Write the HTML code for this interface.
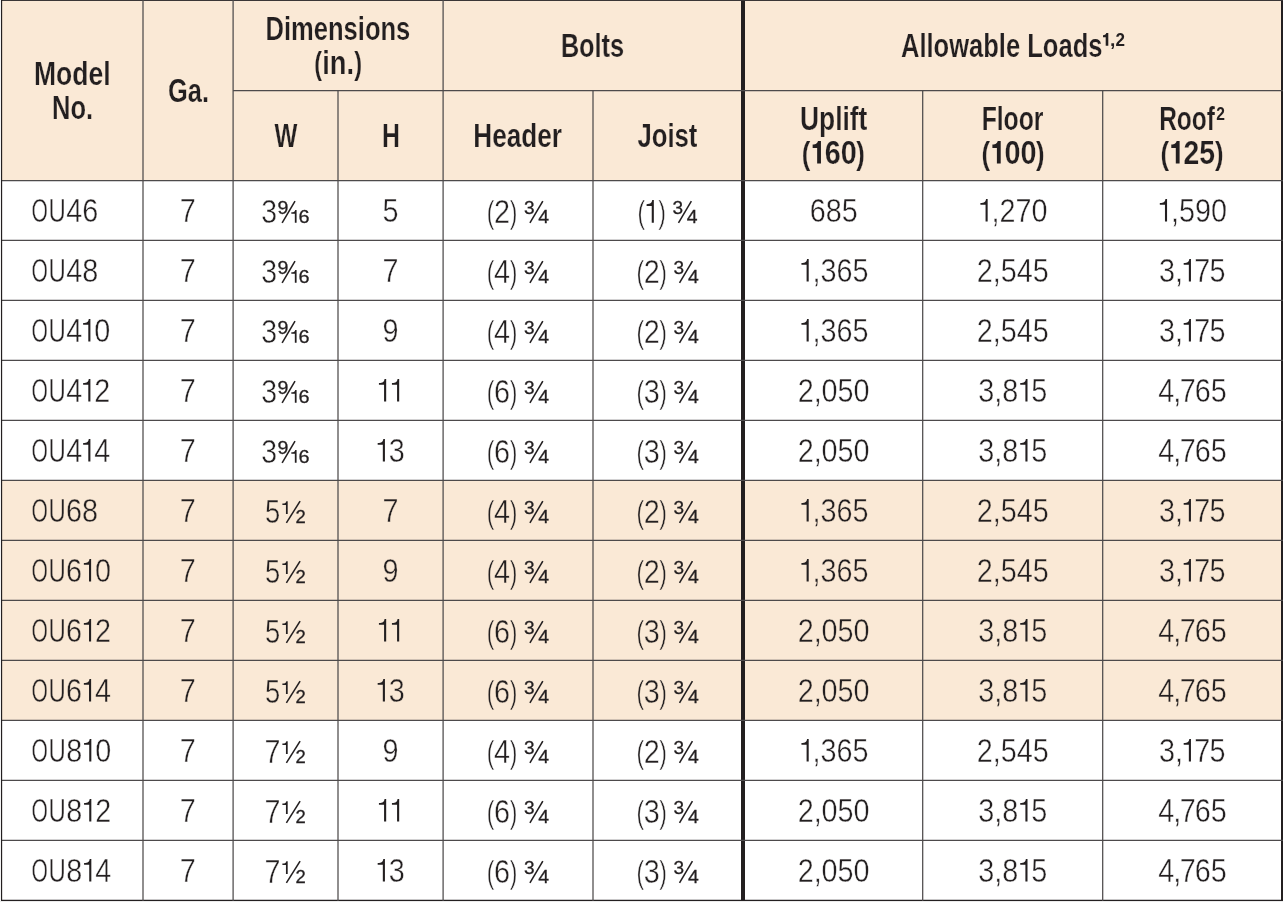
<!DOCTYPE html>
<html><head><meta charset="utf-8"><title>OU Allowable Loads</title>
<style>html,body{margin:0;padding:0;background:#fff}body{width:1283px;height:902px;overflow:hidden}svg{display:block;will-change:transform}</style>
</head><body>
<svg width="1283" height="902" viewBox="0 0 1283 902">
<rect x="1" y="0" width="1282" height="180.5" fill="#FAE9D6"/>
<rect x="1" y="480.4" width="1282" height="240" fill="#FAE9D6"/>
<g opacity="0.999" fill="#231F20" font-family="Liberation Sans, sans-serif">
<text transform="translate(34.01 85) scale(0.8033 1)" font-size="33" font-weight="bold" stroke="#FAE9D6" stroke-width="0.2" vector-effect="non-scaling-stroke">Model</text>
<text transform="translate(51.98 119) scale(0.7725 1)" font-size="33" font-weight="bold" stroke="#FAE9D6" stroke-width="0.2" vector-effect="non-scaling-stroke">No.</text>
<text transform="translate(167.98 101.8) scale(0.7712 1)" font-size="33" font-weight="bold" stroke="#FAE9D6" stroke-width="0.2" vector-effect="non-scaling-stroke">Ga.</text>
<text transform="translate(265.58 39.9) scale(0.7739 1)" font-size="33" font-weight="bold" stroke="#FAE9D6" stroke-width="0.2" vector-effect="non-scaling-stroke">Dimensions</text>
<text transform="translate(314.14 73.8) scale(0.7035 0.94)" font-size="33" font-weight="bold" stroke="#FAE9D6" stroke-width="0.2" vector-effect="non-scaling-stroke">(</text>
<text transform="translate(322.29 73.8) scale(0.8258 1)" font-size="33" font-weight="bold" stroke="#FAE9D6" stroke-width="0.2" vector-effect="non-scaling-stroke">in.</text>
<text transform="translate(354.14 73.8) scale(0.7143 0.94)" font-size="33" font-weight="bold" stroke="#FAE9D6" stroke-width="0.2" vector-effect="non-scaling-stroke">)</text>
<text transform="translate(560.9 57) scale(0.7638 1)" font-size="33" font-weight="bold" stroke="#FAE9D6" stroke-width="0.2" vector-effect="non-scaling-stroke">Bolts</text>
<text transform="translate(900.96 56.9) scale(0.7741 1)" font-size="33" font-weight="bold" stroke="#FAE9D6" stroke-width="0.2" vector-effect="non-scaling-stroke">Allowable Loads</text>
<path d="M1105.7 45.8H1108.3V33H1106.27C1105.83 34.32 1105.16 35.2 1103 35.2V37.2H1105.7Z"/>
<text transform="translate(1110.05 45.8) scale(1.0539 1)" font-size="18.3" font-weight="bold">,</text>
<text transform="translate(1115.4 45.8) scale(0.9335 1)" font-size="18.3" font-weight="bold">2</text>
<text transform="translate(274.44 147.2) scale(0.7350 1)" font-size="33" font-weight="bold" stroke="#FAE9D6" stroke-width="0.2" vector-effect="non-scaling-stroke">W</text>
<text transform="translate(382.02 147.2) scale(0.7531 1)" font-size="33" font-weight="bold" stroke="#FAE9D6" stroke-width="0.2" vector-effect="non-scaling-stroke">H</text>
<text transform="translate(473.34 147.2) scale(0.7919 1)" font-size="33" font-weight="bold" stroke="#FAE9D6" stroke-width="0.2" vector-effect="non-scaling-stroke">Header</text>
<text transform="translate(637.41 147.2) scale(0.7796 1)" font-size="33" font-weight="bold" stroke="#FAE9D6" stroke-width="0.2" vector-effect="non-scaling-stroke">Joist</text>
<text transform="translate(800.02 129.8) scale(0.7995 1)" font-size="33" font-weight="bold" stroke="#FAE9D6" stroke-width="0.2" vector-effect="non-scaling-stroke">Uplift</text>
<text transform="translate(981.63 129.8) scale(0.7496 1)" font-size="33" font-weight="bold" stroke="#FAE9D6" stroke-width="0.2" vector-effect="non-scaling-stroke">Floor</text>
<text transform="translate(1159.15 129.8) scale(0.7423 1)" font-size="33" font-weight="bold" stroke="#FAE9D6" stroke-width="0.2" vector-effect="non-scaling-stroke">Roof</text>
<text transform="translate(1216.25 119.9) scale(0.8538 1)" font-size="18.3" font-weight="bold">2</text>
<text transform="translate(801.76 163.7) scale(0.7792 0.94)" font-size="33" font-weight="bold" stroke="#FAE9D6" stroke-width="0.2" vector-effect="non-scaling-stroke">(</text>
<path d="M817.15 163.6H820.95V141H817.99C817.34 143.16 816.25 144.6 812.65 144.6V148H817.15Z"/>
<text transform="translate(824.87 163.7) scale(0.8717 1)" font-size="33" font-weight="bold" stroke="#FAE9D6" stroke-width="0.2" vector-effect="non-scaling-stroke">60</text>
<text transform="translate(856.29 163.7) scale(0.7792 0.94)" font-size="33" font-weight="bold" stroke="#FAE9D6" stroke-width="0.2" vector-effect="non-scaling-stroke">)</text>
<text transform="translate(981.51 163.7) scale(0.7792 0.94)" font-size="33" font-weight="bold" stroke="#FAE9D6" stroke-width="0.2" vector-effect="non-scaling-stroke">(</text>
<path d="M996.9 163.6H1000.7V141H997.74C997.09 143.16 996 144.6 992.4 144.6V148H996.9Z"/>
<text transform="translate(1004.55 163.7) scale(0.8738 1)" font-size="33" font-weight="bold" stroke="#FAE9D6" stroke-width="0.2" vector-effect="non-scaling-stroke">00</text>
<text transform="translate(1036.04 163.7) scale(0.7792 0.94)" font-size="33" font-weight="bold" stroke="#FAE9D6" stroke-width="0.2" vector-effect="non-scaling-stroke">)</text>
<text transform="translate(1160.41 163.7) scale(0.7792 0.94)" font-size="33" font-weight="bold" stroke="#FAE9D6" stroke-width="0.2" vector-effect="non-scaling-stroke">(</text>
<path d="M1175.8 163.6H1179.6V141H1176.64C1175.99 143.16 1174.9 144.6 1171.3 144.6V148H1175.8Z"/>
<text transform="translate(1183.61 163.7) scale(0.8592 1)" font-size="33" font-weight="bold" stroke="#FAE9D6" stroke-width="0.2" vector-effect="non-scaling-stroke">25</text>
<text transform="translate(1214.94 163.7) scale(0.7792 0.94)" font-size="33" font-weight="bold" stroke="#FAE9D6" stroke-width="0.2" vector-effect="non-scaling-stroke">)</text>
<text transform="translate(31.5 221.8) scale(0.6394 1)" font-size="33" stroke="#fff" stroke-width="0.4" vector-effect="non-scaling-stroke">O</text>
<text transform="translate(48.54 221.8) scale(0.7262 1)" font-size="33" stroke="#fff" stroke-width="0.4" vector-effect="non-scaling-stroke">U</text>
<text transform="translate(66.25 221.8) scale(0.8717 1)" font-size="33" stroke="#fff" stroke-width="0.4" vector-effect="non-scaling-stroke">46</text>
<text transform="translate(179.78 221.8) scale(0.8717 1)" font-size="33" stroke="#fff" stroke-width="0.4" vector-effect="non-scaling-stroke">7</text>
<text transform="translate(261.31 222.9) scale(0.8612 1)" font-size="33" stroke="#fff" stroke-width="0.4" vector-effect="non-scaling-stroke">3</text>
<text transform="translate(277.59 213.8) scale(1.0752 1)" font-size="18.3" stroke="#231F20" stroke-width="0.3" vector-effect="non-scaling-stroke">9</text>
<line x1="282.13" y1="222.8" x2="295.03" y2="201.1" stroke="#231F20" stroke-width="1.55"/>
<path d="M294.83 222.7H296.58V209.95H295.21C294.91 211.33 294.13 212.25 291.33 212.25V213.85H294.83Z"/>
<text transform="translate(298.43 222.7) scale(1.0870 1)" font-size="18.3" stroke="#231F20" stroke-width="0.3" vector-effect="non-scaling-stroke">6</text>
<text transform="translate(382.62 221.8) scale(0.8717 1)" font-size="33" stroke="#fff" stroke-width="0.4" vector-effect="non-scaling-stroke">5</text>
<text transform="translate(486.84 222.9) scale(0.6950 0.94)" font-size="33" stroke="#fff" stroke-width="0.4" vector-effect="non-scaling-stroke">(</text>
<text transform="translate(494.04 222.9) scale(0.8717 1)" font-size="33" stroke="#fff" stroke-width="0.4" vector-effect="non-scaling-stroke">2</text>
<text transform="translate(509.64 222.9) scale(0.6950 0.94)" font-size="33" stroke="#fff" stroke-width="0.4" vector-effect="non-scaling-stroke">)</text>
<text transform="translate(523.91 213.8) scale(1.0411 1)" font-size="18.3" stroke="#231F20" stroke-width="0.3" vector-effect="non-scaling-stroke">3</text>
<line x1="529.93" y1="222.8" x2="542.83" y2="201.1" stroke="#231F20" stroke-width="1.55"/>
<text transform="translate(538.29 222.7) scale(1.0604 1)" font-size="18.3" stroke="#231F20" stroke-width="0.3" vector-effect="non-scaling-stroke">4</text>
<text transform="translate(637.49 222.9) scale(0.6950 0.94)" font-size="33" stroke="#fff" stroke-width="0.4" vector-effect="non-scaling-stroke">(</text>
<path d="M651.74 222.7H653.84V200.1H652.2C651.84 202.56 650.71 204.2 646.59 204.2V205.95H651.74Z"/>
<text transform="translate(658.19 222.9) scale(0.6950 0.94)" font-size="33" stroke="#fff" stroke-width="0.4" vector-effect="non-scaling-stroke">)</text>
<text transform="translate(672.47 213.8) scale(1.0411 1)" font-size="18.3" stroke="#231F20" stroke-width="0.3" vector-effect="non-scaling-stroke">3</text>
<line x1="678.48" y1="222.8" x2="691.38" y2="201.1" stroke="#231F20" stroke-width="1.55"/>
<text transform="translate(686.84 222.7) scale(1.0604 1)" font-size="18.3" stroke="#231F20" stroke-width="0.3" vector-effect="non-scaling-stroke">4</text>
<text transform="translate(809.67 221.8) scale(0.8717 1)" font-size="33" stroke="#fff" stroke-width="0.4" vector-effect="non-scaling-stroke">685</text>
<path d="M985.56 221.6H987.66V199H986.02C985.67 201.46 984.53 203.1 980.41 203.1V204.85H985.56Z"/>
<text transform="translate(991.51 221.8) scale(0.8717 1)" font-size="33" stroke="#fff" stroke-width="0.4" vector-effect="non-scaling-stroke">,270</text>
<path d="M1164.96 221.6H1167.06V199H1165.42C1165.07 201.46 1163.93 203.1 1159.81 203.1V204.85H1164.96Z"/>
<text transform="translate(1170.91 221.8) scale(0.8717 1)" font-size="33" stroke="#fff" stroke-width="0.4" vector-effect="non-scaling-stroke">,590</text>
<text transform="translate(31.5 281.8) scale(0.6394 1)" font-size="33" stroke="#fff" stroke-width="0.4" vector-effect="non-scaling-stroke">O</text>
<text transform="translate(48.54 281.8) scale(0.7262 1)" font-size="33" stroke="#fff" stroke-width="0.4" vector-effect="non-scaling-stroke">U</text>
<text transform="translate(66.25 281.8) scale(0.8717 1)" font-size="33" stroke="#fff" stroke-width="0.4" vector-effect="non-scaling-stroke">48</text>
<text transform="translate(179.78 281.8) scale(0.8717 1)" font-size="33" stroke="#fff" stroke-width="0.4" vector-effect="non-scaling-stroke">7</text>
<text transform="translate(261.31 282.9) scale(0.8612 1)" font-size="33" stroke="#fff" stroke-width="0.4" vector-effect="non-scaling-stroke">3</text>
<text transform="translate(277.59 273.8) scale(1.0752 1)" font-size="18.3" stroke="#231F20" stroke-width="0.3" vector-effect="non-scaling-stroke">9</text>
<line x1="282.13" y1="282.8" x2="295.03" y2="261.1" stroke="#231F20" stroke-width="1.55"/>
<path d="M294.83 282.7H296.58V269.95H295.21C294.91 271.33 294.13 272.25 291.33 272.25V273.85H294.83Z"/>
<text transform="translate(298.43 282.7) scale(1.0870 1)" font-size="18.3" stroke="#231F20" stroke-width="0.3" vector-effect="non-scaling-stroke">6</text>
<text transform="translate(382.58 281.8) scale(0.8717 1)" font-size="33" stroke="#fff" stroke-width="0.4" vector-effect="non-scaling-stroke">7</text>
<text transform="translate(486.84 282.9) scale(0.6950 0.94)" font-size="33" stroke="#fff" stroke-width="0.4" vector-effect="non-scaling-stroke">(</text>
<text transform="translate(494.04 282.9) scale(0.8717 1)" font-size="33" stroke="#fff" stroke-width="0.4" vector-effect="non-scaling-stroke">4</text>
<text transform="translate(509.64 282.9) scale(0.6950 0.94)" font-size="33" stroke="#fff" stroke-width="0.4" vector-effect="non-scaling-stroke">)</text>
<text transform="translate(523.91 273.8) scale(1.0411 1)" font-size="18.3" stroke="#231F20" stroke-width="0.3" vector-effect="non-scaling-stroke">3</text>
<line x1="529.93" y1="282.8" x2="542.83" y2="261.1" stroke="#231F20" stroke-width="1.55"/>
<text transform="translate(538.29 282.7) scale(1.0604 1)" font-size="18.3" stroke="#231F20" stroke-width="0.3" vector-effect="non-scaling-stroke">4</text>
<text transform="translate(636.44 282.9) scale(0.6950 0.94)" font-size="33" stroke="#fff" stroke-width="0.4" vector-effect="non-scaling-stroke">(</text>
<text transform="translate(643.64 282.9) scale(0.8717 1)" font-size="33" stroke="#fff" stroke-width="0.4" vector-effect="non-scaling-stroke">2</text>
<text transform="translate(659.24 282.9) scale(0.6950 0.94)" font-size="33" stroke="#fff" stroke-width="0.4" vector-effect="non-scaling-stroke">)</text>
<text transform="translate(673.51 273.8) scale(1.0411 1)" font-size="18.3" stroke="#231F20" stroke-width="0.3" vector-effect="non-scaling-stroke">3</text>
<line x1="679.53" y1="282.8" x2="692.43" y2="261.1" stroke="#231F20" stroke-width="1.55"/>
<text transform="translate(687.89 282.7) scale(1.0604 1)" font-size="18.3" stroke="#231F20" stroke-width="0.3" vector-effect="non-scaling-stroke">4</text>
<path d="M806.6 281.6H808.7V259H807.06C806.7 261.46 805.57 263.1 801.45 263.1V264.85H806.6Z"/>
<text transform="translate(812.55 281.8) scale(0.8717 1)" font-size="33" stroke="#fff" stroke-width="0.4" vector-effect="non-scaling-stroke">,365</text>
<text transform="translate(976.68 281.8) scale(0.8717 1)" font-size="33" stroke="#fff" stroke-width="0.4" vector-effect="non-scaling-stroke">2,545</text>
<text transform="translate(1158.91 281.8) scale(0.8717 1)" font-size="33" stroke="#fff" stroke-width="0.4" vector-effect="non-scaling-stroke">3,</text>
<path d="M1188.85 281.6H1190.95V259H1189.31C1188.95 261.46 1187.82 263.1 1183.7 263.1V264.85H1188.85Z"/>
<text transform="translate(1194.3 281.8) scale(0.8717 1)" font-size="33" stroke="#fff" stroke-width="0.4" vector-effect="non-scaling-stroke">7</text>
<text transform="translate(1209.6 281.8) scale(0.8717 1)" font-size="33" stroke="#fff" stroke-width="0.4" vector-effect="non-scaling-stroke">5</text>
<text transform="translate(31.5 341.8) scale(0.6394 1)" font-size="33" stroke="#fff" stroke-width="0.4" vector-effect="non-scaling-stroke">O</text>
<text transform="translate(48.54 341.8) scale(0.7262 1)" font-size="33" stroke="#fff" stroke-width="0.4" vector-effect="non-scaling-stroke">U</text>
<text transform="translate(66.25 341.8) scale(0.8717 1)" font-size="33" stroke="#fff" stroke-width="0.4" vector-effect="non-scaling-stroke">4</text>
<path d="M88.3 341.6H90.4V319H88.76C88.41 321.46 87.27 323.1 83.15 323.1V324.85H88.3Z"/>
<text transform="translate(94.25 341.8) scale(0.8717 1)" font-size="33" stroke="#fff" stroke-width="0.4" vector-effect="non-scaling-stroke">0</text>
<text transform="translate(179.78 341.8) scale(0.8717 1)" font-size="33" stroke="#fff" stroke-width="0.4" vector-effect="non-scaling-stroke">7</text>
<text transform="translate(261.31 342.9) scale(0.8612 1)" font-size="33" stroke="#fff" stroke-width="0.4" vector-effect="non-scaling-stroke">3</text>
<text transform="translate(277.59 333.8) scale(1.0752 1)" font-size="18.3" stroke="#231F20" stroke-width="0.3" vector-effect="non-scaling-stroke">9</text>
<line x1="282.13" y1="342.8" x2="295.03" y2="321.1" stroke="#231F20" stroke-width="1.55"/>
<path d="M294.83 342.7H296.58V329.95H295.21C294.91 331.33 294.13 332.25 291.33 332.25V333.85H294.83Z"/>
<text transform="translate(298.43 342.7) scale(1.0870 1)" font-size="18.3" stroke="#231F20" stroke-width="0.3" vector-effect="non-scaling-stroke">6</text>
<text transform="translate(382.58 341.8) scale(0.8717 1)" font-size="33" stroke="#fff" stroke-width="0.4" vector-effect="non-scaling-stroke">9</text>
<text transform="translate(486.84 342.9) scale(0.6950 0.94)" font-size="33" stroke="#fff" stroke-width="0.4" vector-effect="non-scaling-stroke">(</text>
<text transform="translate(494.04 342.9) scale(0.8717 1)" font-size="33" stroke="#fff" stroke-width="0.4" vector-effect="non-scaling-stroke">4</text>
<text transform="translate(509.64 342.9) scale(0.6950 0.94)" font-size="33" stroke="#fff" stroke-width="0.4" vector-effect="non-scaling-stroke">)</text>
<text transform="translate(523.91 333.8) scale(1.0411 1)" font-size="18.3" stroke="#231F20" stroke-width="0.3" vector-effect="non-scaling-stroke">3</text>
<line x1="529.93" y1="342.8" x2="542.83" y2="321.1" stroke="#231F20" stroke-width="1.55"/>
<text transform="translate(538.29 342.7) scale(1.0604 1)" font-size="18.3" stroke="#231F20" stroke-width="0.3" vector-effect="non-scaling-stroke">4</text>
<text transform="translate(636.44 342.9) scale(0.6950 0.94)" font-size="33" stroke="#fff" stroke-width="0.4" vector-effect="non-scaling-stroke">(</text>
<text transform="translate(643.64 342.9) scale(0.8717 1)" font-size="33" stroke="#fff" stroke-width="0.4" vector-effect="non-scaling-stroke">2</text>
<text transform="translate(659.24 342.9) scale(0.6950 0.94)" font-size="33" stroke="#fff" stroke-width="0.4" vector-effect="non-scaling-stroke">)</text>
<text transform="translate(673.51 333.8) scale(1.0411 1)" font-size="18.3" stroke="#231F20" stroke-width="0.3" vector-effect="non-scaling-stroke">3</text>
<line x1="679.53" y1="342.8" x2="692.43" y2="321.1" stroke="#231F20" stroke-width="1.55"/>
<text transform="translate(687.89 342.7) scale(1.0604 1)" font-size="18.3" stroke="#231F20" stroke-width="0.3" vector-effect="non-scaling-stroke">4</text>
<path d="M806.6 341.6H808.7V319H807.06C806.7 321.46 805.57 323.1 801.45 323.1V324.85H806.6Z"/>
<text transform="translate(812.55 341.8) scale(0.8717 1)" font-size="33" stroke="#fff" stroke-width="0.4" vector-effect="non-scaling-stroke">,365</text>
<text transform="translate(976.68 341.8) scale(0.8717 1)" font-size="33" stroke="#fff" stroke-width="0.4" vector-effect="non-scaling-stroke">2,545</text>
<text transform="translate(1158.91 341.8) scale(0.8717 1)" font-size="33" stroke="#fff" stroke-width="0.4" vector-effect="non-scaling-stroke">3,</text>
<path d="M1188.85 341.6H1190.95V319H1189.31C1188.95 321.46 1187.82 323.1 1183.7 323.1V324.85H1188.85Z"/>
<text transform="translate(1194.3 341.8) scale(0.8717 1)" font-size="33" stroke="#fff" stroke-width="0.4" vector-effect="non-scaling-stroke">7</text>
<text transform="translate(1209.6 341.8) scale(0.8717 1)" font-size="33" stroke="#fff" stroke-width="0.4" vector-effect="non-scaling-stroke">5</text>
<text transform="translate(31.5 401.8) scale(0.6394 1)" font-size="33" stroke="#fff" stroke-width="0.4" vector-effect="non-scaling-stroke">O</text>
<text transform="translate(48.54 401.8) scale(0.7262 1)" font-size="33" stroke="#fff" stroke-width="0.4" vector-effect="non-scaling-stroke">U</text>
<text transform="translate(66.25 401.8) scale(0.8717 1)" font-size="33" stroke="#fff" stroke-width="0.4" vector-effect="non-scaling-stroke">4</text>
<path d="M88.3 401.6H90.4V379H88.76C88.41 381.46 87.27 383.1 83.15 383.1V384.85H88.3Z"/>
<text transform="translate(94.25 401.8) scale(0.8717 1)" font-size="33" stroke="#fff" stroke-width="0.4" vector-effect="non-scaling-stroke">2</text>
<text transform="translate(179.78 401.8) scale(0.8717 1)" font-size="33" stroke="#fff" stroke-width="0.4" vector-effect="non-scaling-stroke">7</text>
<text transform="translate(261.31 402.9) scale(0.8612 1)" font-size="33" stroke="#fff" stroke-width="0.4" vector-effect="non-scaling-stroke">3</text>
<text transform="translate(277.59 393.8) scale(1.0752 1)" font-size="18.3" stroke="#231F20" stroke-width="0.3" vector-effect="non-scaling-stroke">9</text>
<line x1="282.13" y1="402.8" x2="295.03" y2="381.1" stroke="#231F20" stroke-width="1.55"/>
<path d="M294.83 402.7H296.58V389.95H295.21C294.91 391.33 294.13 392.25 291.33 392.25V393.85H294.83Z"/>
<text transform="translate(298.43 402.7) scale(1.0870 1)" font-size="18.3" stroke="#231F20" stroke-width="0.3" vector-effect="non-scaling-stroke">6</text>
<path d="M384.07 401.6H386.18V379H384.54C384.18 381.46 383.05 383.1 378.93 383.1V384.85H384.07Z"/>
<path d="M397.07 401.6H399.18V379H397.54C397.18 381.46 396.05 383.1 391.93 383.1V384.85H397.07Z"/>
<text transform="translate(486.84 402.9) scale(0.6950 0.94)" font-size="33" stroke="#fff" stroke-width="0.4" vector-effect="non-scaling-stroke">(</text>
<text transform="translate(494.04 402.9) scale(0.8717 1)" font-size="33" stroke="#fff" stroke-width="0.4" vector-effect="non-scaling-stroke">6</text>
<text transform="translate(509.64 402.9) scale(0.6950 0.94)" font-size="33" stroke="#fff" stroke-width="0.4" vector-effect="non-scaling-stroke">)</text>
<text transform="translate(523.91 393.8) scale(1.0411 1)" font-size="18.3" stroke="#231F20" stroke-width="0.3" vector-effect="non-scaling-stroke">3</text>
<line x1="529.93" y1="402.8" x2="542.83" y2="381.1" stroke="#231F20" stroke-width="1.55"/>
<text transform="translate(538.29 402.7) scale(1.0604 1)" font-size="18.3" stroke="#231F20" stroke-width="0.3" vector-effect="non-scaling-stroke">4</text>
<text transform="translate(636.44 402.9) scale(0.6950 0.94)" font-size="33" stroke="#fff" stroke-width="0.4" vector-effect="non-scaling-stroke">(</text>
<text transform="translate(643.64 402.9) scale(0.8717 1)" font-size="33" stroke="#fff" stroke-width="0.4" vector-effect="non-scaling-stroke">3</text>
<text transform="translate(659.24 402.9) scale(0.6950 0.94)" font-size="33" stroke="#fff" stroke-width="0.4" vector-effect="non-scaling-stroke">)</text>
<text transform="translate(673.51 393.8) scale(1.0411 1)" font-size="18.3" stroke="#231F20" stroke-width="0.3" vector-effect="non-scaling-stroke">3</text>
<line x1="679.53" y1="402.8" x2="692.43" y2="381.1" stroke="#231F20" stroke-width="1.55"/>
<text transform="translate(687.89 402.7) scale(1.0604 1)" font-size="18.3" stroke="#231F20" stroke-width="0.3" vector-effect="non-scaling-stroke">4</text>
<text transform="translate(797.64 401.8) scale(0.8717 1)" font-size="33" stroke="#fff" stroke-width="0.4" vector-effect="non-scaling-stroke">2,050</text>
<text transform="translate(978.36 401.8) scale(0.8717 1)" font-size="33" stroke="#fff" stroke-width="0.4" vector-effect="non-scaling-stroke">3,8</text>
<path d="M1025.4 401.6H1027.5V379H1025.86C1025.5 381.46 1024.37 383.1 1020.25 383.1V384.85H1025.4Z"/>
<text transform="translate(1031.35 401.8) scale(0.8717 1)" font-size="33" stroke="#fff" stroke-width="0.4" vector-effect="non-scaling-stroke">5</text>
<text transform="translate(1158.22 401.8) scale(0.8717 1)" font-size="33" stroke="#fff" stroke-width="0.4" vector-effect="non-scaling-stroke">4</text>
<text transform="translate(1173.22 401.8) scale(0.8717 1)" font-size="33" stroke="#fff" stroke-width="0.4" vector-effect="non-scaling-stroke">,</text>
<text transform="translate(1179.72 401.8) scale(0.8717 1)" font-size="33" stroke="#fff" stroke-width="0.4" vector-effect="non-scaling-stroke">7</text>
<text transform="translate(1194.71 401.8) scale(0.8717 1)" font-size="33" stroke="#fff" stroke-width="0.4" vector-effect="non-scaling-stroke">65</text>
<text transform="translate(31.5 461.8) scale(0.6394 1)" font-size="33" stroke="#fff" stroke-width="0.4" vector-effect="non-scaling-stroke">O</text>
<text transform="translate(48.54 461.8) scale(0.7262 1)" font-size="33" stroke="#fff" stroke-width="0.4" vector-effect="non-scaling-stroke">U</text>
<text transform="translate(66.25 461.8) scale(0.8717 1)" font-size="33" stroke="#fff" stroke-width="0.4" vector-effect="non-scaling-stroke">4</text>
<path d="M88.3 461.6H90.4V439H88.76C88.41 441.46 87.27 443.1 83.15 443.1V444.85H88.3Z"/>
<text transform="translate(94.25 461.8) scale(0.8717 1)" font-size="33" stroke="#fff" stroke-width="0.4" vector-effect="non-scaling-stroke">4</text>
<text transform="translate(179.78 461.8) scale(0.8717 1)" font-size="33" stroke="#fff" stroke-width="0.4" vector-effect="non-scaling-stroke">7</text>
<text transform="translate(261.31 462.9) scale(0.8612 1)" font-size="33" stroke="#fff" stroke-width="0.4" vector-effect="non-scaling-stroke">3</text>
<text transform="translate(277.59 453.8) scale(1.0752 1)" font-size="18.3" stroke="#231F20" stroke-width="0.3" vector-effect="non-scaling-stroke">9</text>
<line x1="282.13" y1="462.8" x2="295.03" y2="441.1" stroke="#231F20" stroke-width="1.55"/>
<path d="M294.83 462.7H296.58V449.95H295.21C294.91 451.33 294.13 452.25 291.33 452.25V453.85H294.83Z"/>
<text transform="translate(298.43 462.7) scale(1.0870 1)" font-size="18.3" stroke="#231F20" stroke-width="0.3" vector-effect="non-scaling-stroke">6</text>
<path d="M382.83 461.6H384.93V439H383.29C382.93 441.46 381.8 443.1 377.68 443.1V444.85H382.83Z"/>
<text transform="translate(388.78 461.8) scale(0.8717 1)" font-size="33" stroke="#fff" stroke-width="0.4" vector-effect="non-scaling-stroke">3</text>
<text transform="translate(486.84 462.9) scale(0.6950 0.94)" font-size="33" stroke="#fff" stroke-width="0.4" vector-effect="non-scaling-stroke">(</text>
<text transform="translate(494.04 462.9) scale(0.8717 1)" font-size="33" stroke="#fff" stroke-width="0.4" vector-effect="non-scaling-stroke">6</text>
<text transform="translate(509.64 462.9) scale(0.6950 0.94)" font-size="33" stroke="#fff" stroke-width="0.4" vector-effect="non-scaling-stroke">)</text>
<text transform="translate(523.91 453.8) scale(1.0411 1)" font-size="18.3" stroke="#231F20" stroke-width="0.3" vector-effect="non-scaling-stroke">3</text>
<line x1="529.93" y1="462.8" x2="542.83" y2="441.1" stroke="#231F20" stroke-width="1.55"/>
<text transform="translate(538.29 462.7) scale(1.0604 1)" font-size="18.3" stroke="#231F20" stroke-width="0.3" vector-effect="non-scaling-stroke">4</text>
<text transform="translate(636.44 462.9) scale(0.6950 0.94)" font-size="33" stroke="#fff" stroke-width="0.4" vector-effect="non-scaling-stroke">(</text>
<text transform="translate(643.64 462.9) scale(0.8717 1)" font-size="33" stroke="#fff" stroke-width="0.4" vector-effect="non-scaling-stroke">3</text>
<text transform="translate(659.24 462.9) scale(0.6950 0.94)" font-size="33" stroke="#fff" stroke-width="0.4" vector-effect="non-scaling-stroke">)</text>
<text transform="translate(673.51 453.8) scale(1.0411 1)" font-size="18.3" stroke="#231F20" stroke-width="0.3" vector-effect="non-scaling-stroke">3</text>
<line x1="679.53" y1="462.8" x2="692.43" y2="441.1" stroke="#231F20" stroke-width="1.55"/>
<text transform="translate(687.89 462.7) scale(1.0604 1)" font-size="18.3" stroke="#231F20" stroke-width="0.3" vector-effect="non-scaling-stroke">4</text>
<text transform="translate(797.64 461.8) scale(0.8717 1)" font-size="33" stroke="#fff" stroke-width="0.4" vector-effect="non-scaling-stroke">2,050</text>
<text transform="translate(978.36 461.8) scale(0.8717 1)" font-size="33" stroke="#fff" stroke-width="0.4" vector-effect="non-scaling-stroke">3,8</text>
<path d="M1025.4 461.6H1027.5V439H1025.86C1025.5 441.46 1024.37 443.1 1020.25 443.1V444.85H1025.4Z"/>
<text transform="translate(1031.35 461.8) scale(0.8717 1)" font-size="33" stroke="#fff" stroke-width="0.4" vector-effect="non-scaling-stroke">5</text>
<text transform="translate(1158.22 461.8) scale(0.8717 1)" font-size="33" stroke="#fff" stroke-width="0.4" vector-effect="non-scaling-stroke">4</text>
<text transform="translate(1173.22 461.8) scale(0.8717 1)" font-size="33" stroke="#fff" stroke-width="0.4" vector-effect="non-scaling-stroke">,</text>
<text transform="translate(1179.72 461.8) scale(0.8717 1)" font-size="33" stroke="#fff" stroke-width="0.4" vector-effect="non-scaling-stroke">7</text>
<text transform="translate(1194.71 461.8) scale(0.8717 1)" font-size="33" stroke="#fff" stroke-width="0.4" vector-effect="non-scaling-stroke">65</text>
<text transform="translate(31.5 521.8) scale(0.6394 1)" font-size="33" stroke="#FAE9D6" stroke-width="0.4" vector-effect="non-scaling-stroke">O</text>
<text transform="translate(48.54 521.8) scale(0.7262 1)" font-size="33" stroke="#FAE9D6" stroke-width="0.4" vector-effect="non-scaling-stroke">U</text>
<text transform="translate(65.96 521.8) scale(0.8717 1)" font-size="33" stroke="#FAE9D6" stroke-width="0.4" vector-effect="non-scaling-stroke">68</text>
<text transform="translate(179.78 521.8) scale(0.8717 1)" font-size="33" stroke="#FAE9D6" stroke-width="0.4" vector-effect="non-scaling-stroke">7</text>
<text transform="translate(265.01 522.9) scale(0.8293 1)" font-size="33" stroke="#FAE9D6" stroke-width="0.4" vector-effect="non-scaling-stroke">5</text>
<path d="M285.95 513.9H287.7V501.15H286.34C286.04 502.53 285.24 503.45 282.4 503.45V505.05H285.95Z"/>
<line x1="286.4" y1="522.8" x2="300.1" y2="501.1" stroke="#231F20" stroke-width="1.55"/>
<text transform="translate(295.58 522.7) scale(1.0088 1)" font-size="18.3" stroke="#231F20" stroke-width="0.3" vector-effect="non-scaling-stroke">2</text>
<text transform="translate(382.58 521.8) scale(0.8717 1)" font-size="33" stroke="#FAE9D6" stroke-width="0.4" vector-effect="non-scaling-stroke">7</text>
<text transform="translate(486.84 522.9) scale(0.6950 0.94)" font-size="33" stroke="#FAE9D6" stroke-width="0.4" vector-effect="non-scaling-stroke">(</text>
<text transform="translate(494.04 522.9) scale(0.8717 1)" font-size="33" stroke="#FAE9D6" stroke-width="0.4" vector-effect="non-scaling-stroke">4</text>
<text transform="translate(509.64 522.9) scale(0.6950 0.94)" font-size="33" stroke="#FAE9D6" stroke-width="0.4" vector-effect="non-scaling-stroke">)</text>
<text transform="translate(523.91 513.8) scale(1.0411 1)" font-size="18.3" stroke="#231F20" stroke-width="0.3" vector-effect="non-scaling-stroke">3</text>
<line x1="529.93" y1="522.8" x2="542.83" y2="501.1" stroke="#231F20" stroke-width="1.55"/>
<text transform="translate(538.29 522.7) scale(1.0604 1)" font-size="18.3" stroke="#231F20" stroke-width="0.3" vector-effect="non-scaling-stroke">4</text>
<text transform="translate(636.44 522.9) scale(0.6950 0.94)" font-size="33" stroke="#FAE9D6" stroke-width="0.4" vector-effect="non-scaling-stroke">(</text>
<text transform="translate(643.64 522.9) scale(0.8717 1)" font-size="33" stroke="#FAE9D6" stroke-width="0.4" vector-effect="non-scaling-stroke">2</text>
<text transform="translate(659.24 522.9) scale(0.6950 0.94)" font-size="33" stroke="#FAE9D6" stroke-width="0.4" vector-effect="non-scaling-stroke">)</text>
<text transform="translate(673.51 513.8) scale(1.0411 1)" font-size="18.3" stroke="#231F20" stroke-width="0.3" vector-effect="non-scaling-stroke">3</text>
<line x1="679.53" y1="522.8" x2="692.43" y2="501.1" stroke="#231F20" stroke-width="1.55"/>
<text transform="translate(687.89 522.7) scale(1.0604 1)" font-size="18.3" stroke="#231F20" stroke-width="0.3" vector-effect="non-scaling-stroke">4</text>
<path d="M806.6 521.6H808.7V499H807.06C806.7 501.46 805.57 503.1 801.45 503.1V504.85H806.6Z"/>
<text transform="translate(812.55 521.8) scale(0.8717 1)" font-size="33" stroke="#FAE9D6" stroke-width="0.4" vector-effect="non-scaling-stroke">,365</text>
<text transform="translate(976.68 521.8) scale(0.8717 1)" font-size="33" stroke="#FAE9D6" stroke-width="0.4" vector-effect="non-scaling-stroke">2,545</text>
<text transform="translate(1158.91 521.8) scale(0.8717 1)" font-size="33" stroke="#FAE9D6" stroke-width="0.4" vector-effect="non-scaling-stroke">3,</text>
<path d="M1188.85 521.6H1190.95V499H1189.31C1188.95 501.46 1187.82 503.1 1183.7 503.1V504.85H1188.85Z"/>
<text transform="translate(1194.3 521.8) scale(0.8717 1)" font-size="33" stroke="#FAE9D6" stroke-width="0.4" vector-effect="non-scaling-stroke">7</text>
<text transform="translate(1209.6 521.8) scale(0.8717 1)" font-size="33" stroke="#FAE9D6" stroke-width="0.4" vector-effect="non-scaling-stroke">5</text>
<text transform="translate(31.5 581.8) scale(0.6394 1)" font-size="33" stroke="#FAE9D6" stroke-width="0.4" vector-effect="non-scaling-stroke">O</text>
<text transform="translate(48.54 581.8) scale(0.7262 1)" font-size="33" stroke="#FAE9D6" stroke-width="0.4" vector-effect="non-scaling-stroke">U</text>
<text transform="translate(65.96 581.8) scale(0.8717 1)" font-size="33" stroke="#FAE9D6" stroke-width="0.4" vector-effect="non-scaling-stroke">6</text>
<path d="M89.01 581.6H91.11V559H89.47C89.12 561.46 87.98 563.1 83.86 563.1V564.85H89.01Z"/>
<text transform="translate(94.96 581.8) scale(0.8717 1)" font-size="33" stroke="#FAE9D6" stroke-width="0.4" vector-effect="non-scaling-stroke">0</text>
<text transform="translate(179.78 581.8) scale(0.8717 1)" font-size="33" stroke="#FAE9D6" stroke-width="0.4" vector-effect="non-scaling-stroke">7</text>
<text transform="translate(265.01 582.9) scale(0.8293 1)" font-size="33" stroke="#FAE9D6" stroke-width="0.4" vector-effect="non-scaling-stroke">5</text>
<path d="M285.95 573.9H287.7V561.15H286.34C286.04 562.53 285.24 563.45 282.4 563.45V565.05H285.95Z"/>
<line x1="286.4" y1="582.8" x2="300.1" y2="561.1" stroke="#231F20" stroke-width="1.55"/>
<text transform="translate(295.58 582.7) scale(1.0088 1)" font-size="18.3" stroke="#231F20" stroke-width="0.3" vector-effect="non-scaling-stroke">2</text>
<text transform="translate(382.58 581.8) scale(0.8717 1)" font-size="33" stroke="#FAE9D6" stroke-width="0.4" vector-effect="non-scaling-stroke">9</text>
<text transform="translate(486.84 582.9) scale(0.6950 0.94)" font-size="33" stroke="#FAE9D6" stroke-width="0.4" vector-effect="non-scaling-stroke">(</text>
<text transform="translate(494.04 582.9) scale(0.8717 1)" font-size="33" stroke="#FAE9D6" stroke-width="0.4" vector-effect="non-scaling-stroke">4</text>
<text transform="translate(509.64 582.9) scale(0.6950 0.94)" font-size="33" stroke="#FAE9D6" stroke-width="0.4" vector-effect="non-scaling-stroke">)</text>
<text transform="translate(523.91 573.8) scale(1.0411 1)" font-size="18.3" stroke="#231F20" stroke-width="0.3" vector-effect="non-scaling-stroke">3</text>
<line x1="529.93" y1="582.8" x2="542.83" y2="561.1" stroke="#231F20" stroke-width="1.55"/>
<text transform="translate(538.29 582.7) scale(1.0604 1)" font-size="18.3" stroke="#231F20" stroke-width="0.3" vector-effect="non-scaling-stroke">4</text>
<text transform="translate(636.44 582.9) scale(0.6950 0.94)" font-size="33" stroke="#FAE9D6" stroke-width="0.4" vector-effect="non-scaling-stroke">(</text>
<text transform="translate(643.64 582.9) scale(0.8717 1)" font-size="33" stroke="#FAE9D6" stroke-width="0.4" vector-effect="non-scaling-stroke">2</text>
<text transform="translate(659.24 582.9) scale(0.6950 0.94)" font-size="33" stroke="#FAE9D6" stroke-width="0.4" vector-effect="non-scaling-stroke">)</text>
<text transform="translate(673.51 573.8) scale(1.0411 1)" font-size="18.3" stroke="#231F20" stroke-width="0.3" vector-effect="non-scaling-stroke">3</text>
<line x1="679.53" y1="582.8" x2="692.43" y2="561.1" stroke="#231F20" stroke-width="1.55"/>
<text transform="translate(687.89 582.7) scale(1.0604 1)" font-size="18.3" stroke="#231F20" stroke-width="0.3" vector-effect="non-scaling-stroke">4</text>
<path d="M806.6 581.6H808.7V559H807.06C806.7 561.46 805.57 563.1 801.45 563.1V564.85H806.6Z"/>
<text transform="translate(812.55 581.8) scale(0.8717 1)" font-size="33" stroke="#FAE9D6" stroke-width="0.4" vector-effect="non-scaling-stroke">,365</text>
<text transform="translate(976.68 581.8) scale(0.8717 1)" font-size="33" stroke="#FAE9D6" stroke-width="0.4" vector-effect="non-scaling-stroke">2,545</text>
<text transform="translate(1158.91 581.8) scale(0.8717 1)" font-size="33" stroke="#FAE9D6" stroke-width="0.4" vector-effect="non-scaling-stroke">3,</text>
<path d="M1188.85 581.6H1190.95V559H1189.31C1188.95 561.46 1187.82 563.1 1183.7 563.1V564.85H1188.85Z"/>
<text transform="translate(1194.3 581.8) scale(0.8717 1)" font-size="33" stroke="#FAE9D6" stroke-width="0.4" vector-effect="non-scaling-stroke">7</text>
<text transform="translate(1209.6 581.8) scale(0.8717 1)" font-size="33" stroke="#FAE9D6" stroke-width="0.4" vector-effect="non-scaling-stroke">5</text>
<text transform="translate(31.5 641.8) scale(0.6394 1)" font-size="33" stroke="#FAE9D6" stroke-width="0.4" vector-effect="non-scaling-stroke">O</text>
<text transform="translate(48.54 641.8) scale(0.7262 1)" font-size="33" stroke="#FAE9D6" stroke-width="0.4" vector-effect="non-scaling-stroke">U</text>
<text transform="translate(65.96 641.8) scale(0.8717 1)" font-size="33" stroke="#FAE9D6" stroke-width="0.4" vector-effect="non-scaling-stroke">6</text>
<path d="M89.01 641.6H91.11V619H89.47C89.12 621.46 87.98 623.1 83.86 623.1V624.85H89.01Z"/>
<text transform="translate(94.96 641.8) scale(0.8717 1)" font-size="33" stroke="#FAE9D6" stroke-width="0.4" vector-effect="non-scaling-stroke">2</text>
<text transform="translate(179.78 641.8) scale(0.8717 1)" font-size="33" stroke="#FAE9D6" stroke-width="0.4" vector-effect="non-scaling-stroke">7</text>
<text transform="translate(265.01 642.9) scale(0.8293 1)" font-size="33" stroke="#FAE9D6" stroke-width="0.4" vector-effect="non-scaling-stroke">5</text>
<path d="M285.95 633.9H287.7V621.15H286.34C286.04 622.53 285.24 623.45 282.4 623.45V625.05H285.95Z"/>
<line x1="286.4" y1="642.8" x2="300.1" y2="621.1" stroke="#231F20" stroke-width="1.55"/>
<text transform="translate(295.58 642.7) scale(1.0088 1)" font-size="18.3" stroke="#231F20" stroke-width="0.3" vector-effect="non-scaling-stroke">2</text>
<path d="M384.07 641.6H386.18V619H384.54C384.18 621.46 383.05 623.1 378.93 623.1V624.85H384.07Z"/>
<path d="M397.07 641.6H399.18V619H397.54C397.18 621.46 396.05 623.1 391.93 623.1V624.85H397.07Z"/>
<text transform="translate(486.84 642.9) scale(0.6950 0.94)" font-size="33" stroke="#FAE9D6" stroke-width="0.4" vector-effect="non-scaling-stroke">(</text>
<text transform="translate(494.04 642.9) scale(0.8717 1)" font-size="33" stroke="#FAE9D6" stroke-width="0.4" vector-effect="non-scaling-stroke">6</text>
<text transform="translate(509.64 642.9) scale(0.6950 0.94)" font-size="33" stroke="#FAE9D6" stroke-width="0.4" vector-effect="non-scaling-stroke">)</text>
<text transform="translate(523.91 633.8) scale(1.0411 1)" font-size="18.3" stroke="#231F20" stroke-width="0.3" vector-effect="non-scaling-stroke">3</text>
<line x1="529.93" y1="642.8" x2="542.83" y2="621.1" stroke="#231F20" stroke-width="1.55"/>
<text transform="translate(538.29 642.7) scale(1.0604 1)" font-size="18.3" stroke="#231F20" stroke-width="0.3" vector-effect="non-scaling-stroke">4</text>
<text transform="translate(636.44 642.9) scale(0.6950 0.94)" font-size="33" stroke="#FAE9D6" stroke-width="0.4" vector-effect="non-scaling-stroke">(</text>
<text transform="translate(643.64 642.9) scale(0.8717 1)" font-size="33" stroke="#FAE9D6" stroke-width="0.4" vector-effect="non-scaling-stroke">3</text>
<text transform="translate(659.24 642.9) scale(0.6950 0.94)" font-size="33" stroke="#FAE9D6" stroke-width="0.4" vector-effect="non-scaling-stroke">)</text>
<text transform="translate(673.51 633.8) scale(1.0411 1)" font-size="18.3" stroke="#231F20" stroke-width="0.3" vector-effect="non-scaling-stroke">3</text>
<line x1="679.53" y1="642.8" x2="692.43" y2="621.1" stroke="#231F20" stroke-width="1.55"/>
<text transform="translate(687.89 642.7) scale(1.0604 1)" font-size="18.3" stroke="#231F20" stroke-width="0.3" vector-effect="non-scaling-stroke">4</text>
<text transform="translate(797.64 641.8) scale(0.8717 1)" font-size="33" stroke="#FAE9D6" stroke-width="0.4" vector-effect="non-scaling-stroke">2,050</text>
<text transform="translate(978.36 641.8) scale(0.8717 1)" font-size="33" stroke="#FAE9D6" stroke-width="0.4" vector-effect="non-scaling-stroke">3,8</text>
<path d="M1025.4 641.6H1027.5V619H1025.86C1025.5 621.46 1024.37 623.1 1020.25 623.1V624.85H1025.4Z"/>
<text transform="translate(1031.35 641.8) scale(0.8717 1)" font-size="33" stroke="#FAE9D6" stroke-width="0.4" vector-effect="non-scaling-stroke">5</text>
<text transform="translate(1158.22 641.8) scale(0.8717 1)" font-size="33" stroke="#FAE9D6" stroke-width="0.4" vector-effect="non-scaling-stroke">4</text>
<text transform="translate(1173.22 641.8) scale(0.8717 1)" font-size="33" stroke="#FAE9D6" stroke-width="0.4" vector-effect="non-scaling-stroke">,</text>
<text transform="translate(1179.72 641.8) scale(0.8717 1)" font-size="33" stroke="#FAE9D6" stroke-width="0.4" vector-effect="non-scaling-stroke">7</text>
<text transform="translate(1194.71 641.8) scale(0.8717 1)" font-size="33" stroke="#FAE9D6" stroke-width="0.4" vector-effect="non-scaling-stroke">65</text>
<text transform="translate(31.5 701.8) scale(0.6394 1)" font-size="33" stroke="#FAE9D6" stroke-width="0.4" vector-effect="non-scaling-stroke">O</text>
<text transform="translate(48.54 701.8) scale(0.7262 1)" font-size="33" stroke="#FAE9D6" stroke-width="0.4" vector-effect="non-scaling-stroke">U</text>
<text transform="translate(65.96 701.8) scale(0.8717 1)" font-size="33" stroke="#FAE9D6" stroke-width="0.4" vector-effect="non-scaling-stroke">6</text>
<path d="M89.01 701.6H91.11V679H89.47C89.12 681.46 87.98 683.1 83.86 683.1V684.85H89.01Z"/>
<text transform="translate(94.96 701.8) scale(0.8717 1)" font-size="33" stroke="#FAE9D6" stroke-width="0.4" vector-effect="non-scaling-stroke">4</text>
<text transform="translate(179.78 701.8) scale(0.8717 1)" font-size="33" stroke="#FAE9D6" stroke-width="0.4" vector-effect="non-scaling-stroke">7</text>
<text transform="translate(265.01 702.9) scale(0.8293 1)" font-size="33" stroke="#FAE9D6" stroke-width="0.4" vector-effect="non-scaling-stroke">5</text>
<path d="M285.95 693.9H287.7V681.15H286.34C286.04 682.53 285.24 683.45 282.4 683.45V685.05H285.95Z"/>
<line x1="286.4" y1="702.8" x2="300.1" y2="681.1" stroke="#231F20" stroke-width="1.55"/>
<text transform="translate(295.58 702.7) scale(1.0088 1)" font-size="18.3" stroke="#231F20" stroke-width="0.3" vector-effect="non-scaling-stroke">2</text>
<path d="M382.83 701.6H384.93V679H383.29C382.93 681.46 381.8 683.1 377.68 683.1V684.85H382.83Z"/>
<text transform="translate(388.78 701.8) scale(0.8717 1)" font-size="33" stroke="#FAE9D6" stroke-width="0.4" vector-effect="non-scaling-stroke">3</text>
<text transform="translate(486.84 702.9) scale(0.6950 0.94)" font-size="33" stroke="#FAE9D6" stroke-width="0.4" vector-effect="non-scaling-stroke">(</text>
<text transform="translate(494.04 702.9) scale(0.8717 1)" font-size="33" stroke="#FAE9D6" stroke-width="0.4" vector-effect="non-scaling-stroke">6</text>
<text transform="translate(509.64 702.9) scale(0.6950 0.94)" font-size="33" stroke="#FAE9D6" stroke-width="0.4" vector-effect="non-scaling-stroke">)</text>
<text transform="translate(523.91 693.8) scale(1.0411 1)" font-size="18.3" stroke="#231F20" stroke-width="0.3" vector-effect="non-scaling-stroke">3</text>
<line x1="529.93" y1="702.8" x2="542.83" y2="681.1" stroke="#231F20" stroke-width="1.55"/>
<text transform="translate(538.29 702.7) scale(1.0604 1)" font-size="18.3" stroke="#231F20" stroke-width="0.3" vector-effect="non-scaling-stroke">4</text>
<text transform="translate(636.44 702.9) scale(0.6950 0.94)" font-size="33" stroke="#FAE9D6" stroke-width="0.4" vector-effect="non-scaling-stroke">(</text>
<text transform="translate(643.64 702.9) scale(0.8717 1)" font-size="33" stroke="#FAE9D6" stroke-width="0.4" vector-effect="non-scaling-stroke">3</text>
<text transform="translate(659.24 702.9) scale(0.6950 0.94)" font-size="33" stroke="#FAE9D6" stroke-width="0.4" vector-effect="non-scaling-stroke">)</text>
<text transform="translate(673.51 693.8) scale(1.0411 1)" font-size="18.3" stroke="#231F20" stroke-width="0.3" vector-effect="non-scaling-stroke">3</text>
<line x1="679.53" y1="702.8" x2="692.43" y2="681.1" stroke="#231F20" stroke-width="1.55"/>
<text transform="translate(687.89 702.7) scale(1.0604 1)" font-size="18.3" stroke="#231F20" stroke-width="0.3" vector-effect="non-scaling-stroke">4</text>
<text transform="translate(797.64 701.8) scale(0.8717 1)" font-size="33" stroke="#FAE9D6" stroke-width="0.4" vector-effect="non-scaling-stroke">2,050</text>
<text transform="translate(978.36 701.8) scale(0.8717 1)" font-size="33" stroke="#FAE9D6" stroke-width="0.4" vector-effect="non-scaling-stroke">3,8</text>
<path d="M1025.4 701.6H1027.5V679H1025.86C1025.5 681.46 1024.37 683.1 1020.25 683.1V684.85H1025.4Z"/>
<text transform="translate(1031.35 701.8) scale(0.8717 1)" font-size="33" stroke="#FAE9D6" stroke-width="0.4" vector-effect="non-scaling-stroke">5</text>
<text transform="translate(1158.22 701.8) scale(0.8717 1)" font-size="33" stroke="#FAE9D6" stroke-width="0.4" vector-effect="non-scaling-stroke">4</text>
<text transform="translate(1173.22 701.8) scale(0.8717 1)" font-size="33" stroke="#FAE9D6" stroke-width="0.4" vector-effect="non-scaling-stroke">,</text>
<text transform="translate(1179.72 701.8) scale(0.8717 1)" font-size="33" stroke="#FAE9D6" stroke-width="0.4" vector-effect="non-scaling-stroke">7</text>
<text transform="translate(1194.71 701.8) scale(0.8717 1)" font-size="33" stroke="#FAE9D6" stroke-width="0.4" vector-effect="non-scaling-stroke">65</text>
<text transform="translate(31.5 761.8) scale(0.6394 1)" font-size="33" stroke="#fff" stroke-width="0.4" vector-effect="non-scaling-stroke">O</text>
<text transform="translate(48.54 761.8) scale(0.7262 1)" font-size="33" stroke="#fff" stroke-width="0.4" vector-effect="non-scaling-stroke">U</text>
<text transform="translate(66.18 761.8) scale(0.8717 1)" font-size="33" stroke="#fff" stroke-width="0.4" vector-effect="non-scaling-stroke">8</text>
<path d="M89.23 761.6H91.33V739H89.69C89.33 741.46 88.2 743.1 84.08 743.1V744.85H89.23Z"/>
<text transform="translate(95.18 761.8) scale(0.8717 1)" font-size="33" stroke="#fff" stroke-width="0.4" vector-effect="non-scaling-stroke">0</text>
<text transform="translate(179.78 761.8) scale(0.8717 1)" font-size="33" stroke="#fff" stroke-width="0.4" vector-effect="non-scaling-stroke">7</text>
<text transform="translate(264.59 762.9) scale(0.8706 1)" font-size="33" stroke="#fff" stroke-width="0.4" vector-effect="non-scaling-stroke">7</text>
<path d="M285.95 753.9H287.7V741.15H286.34C286.04 742.53 285.24 743.45 282.4 743.45V745.05H285.95Z"/>
<line x1="286.4" y1="762.8" x2="300.1" y2="741.1" stroke="#231F20" stroke-width="1.55"/>
<text transform="translate(295.58 762.7) scale(1.0088 1)" font-size="18.3" stroke="#231F20" stroke-width="0.3" vector-effect="non-scaling-stroke">2</text>
<text transform="translate(382.58 761.8) scale(0.8717 1)" font-size="33" stroke="#fff" stroke-width="0.4" vector-effect="non-scaling-stroke">9</text>
<text transform="translate(486.84 762.9) scale(0.6950 0.94)" font-size="33" stroke="#fff" stroke-width="0.4" vector-effect="non-scaling-stroke">(</text>
<text transform="translate(494.04 762.9) scale(0.8717 1)" font-size="33" stroke="#fff" stroke-width="0.4" vector-effect="non-scaling-stroke">4</text>
<text transform="translate(509.64 762.9) scale(0.6950 0.94)" font-size="33" stroke="#fff" stroke-width="0.4" vector-effect="non-scaling-stroke">)</text>
<text transform="translate(523.91 753.8) scale(1.0411 1)" font-size="18.3" stroke="#231F20" stroke-width="0.3" vector-effect="non-scaling-stroke">3</text>
<line x1="529.93" y1="762.8" x2="542.83" y2="741.1" stroke="#231F20" stroke-width="1.55"/>
<text transform="translate(538.29 762.7) scale(1.0604 1)" font-size="18.3" stroke="#231F20" stroke-width="0.3" vector-effect="non-scaling-stroke">4</text>
<text transform="translate(636.44 762.9) scale(0.6950 0.94)" font-size="33" stroke="#fff" stroke-width="0.4" vector-effect="non-scaling-stroke">(</text>
<text transform="translate(643.64 762.9) scale(0.8717 1)" font-size="33" stroke="#fff" stroke-width="0.4" vector-effect="non-scaling-stroke">2</text>
<text transform="translate(659.24 762.9) scale(0.6950 0.94)" font-size="33" stroke="#fff" stroke-width="0.4" vector-effect="non-scaling-stroke">)</text>
<text transform="translate(673.51 753.8) scale(1.0411 1)" font-size="18.3" stroke="#231F20" stroke-width="0.3" vector-effect="non-scaling-stroke">3</text>
<line x1="679.53" y1="762.8" x2="692.43" y2="741.1" stroke="#231F20" stroke-width="1.55"/>
<text transform="translate(687.89 762.7) scale(1.0604 1)" font-size="18.3" stroke="#231F20" stroke-width="0.3" vector-effect="non-scaling-stroke">4</text>
<path d="M806.6 761.6H808.7V739H807.06C806.7 741.46 805.57 743.1 801.45 743.1V744.85H806.6Z"/>
<text transform="translate(812.55 761.8) scale(0.8717 1)" font-size="33" stroke="#fff" stroke-width="0.4" vector-effect="non-scaling-stroke">,365</text>
<text transform="translate(976.68 761.8) scale(0.8717 1)" font-size="33" stroke="#fff" stroke-width="0.4" vector-effect="non-scaling-stroke">2,545</text>
<text transform="translate(1158.91 761.8) scale(0.8717 1)" font-size="33" stroke="#fff" stroke-width="0.4" vector-effect="non-scaling-stroke">3,</text>
<path d="M1188.85 761.6H1190.95V739H1189.31C1188.95 741.46 1187.82 743.1 1183.7 743.1V744.85H1188.85Z"/>
<text transform="translate(1194.3 761.8) scale(0.8717 1)" font-size="33" stroke="#fff" stroke-width="0.4" vector-effect="non-scaling-stroke">7</text>
<text transform="translate(1209.6 761.8) scale(0.8717 1)" font-size="33" stroke="#fff" stroke-width="0.4" vector-effect="non-scaling-stroke">5</text>
<text transform="translate(31.5 821.8) scale(0.6394 1)" font-size="33" stroke="#fff" stroke-width="0.4" vector-effect="non-scaling-stroke">O</text>
<text transform="translate(48.54 821.8) scale(0.7262 1)" font-size="33" stroke="#fff" stroke-width="0.4" vector-effect="non-scaling-stroke">U</text>
<text transform="translate(66.18 821.8) scale(0.8717 1)" font-size="33" stroke="#fff" stroke-width="0.4" vector-effect="non-scaling-stroke">8</text>
<path d="M89.23 821.6H91.33V799H89.69C89.33 801.46 88.2 803.1 84.08 803.1V804.85H89.23Z"/>
<text transform="translate(95.18 821.8) scale(0.8717 1)" font-size="33" stroke="#fff" stroke-width="0.4" vector-effect="non-scaling-stroke">2</text>
<text transform="translate(179.78 821.8) scale(0.8717 1)" font-size="33" stroke="#fff" stroke-width="0.4" vector-effect="non-scaling-stroke">7</text>
<text transform="translate(264.59 822.9) scale(0.8706 1)" font-size="33" stroke="#fff" stroke-width="0.4" vector-effect="non-scaling-stroke">7</text>
<path d="M285.95 813.9H287.7V801.15H286.34C286.04 802.53 285.24 803.45 282.4 803.45V805.05H285.95Z"/>
<line x1="286.4" y1="822.8" x2="300.1" y2="801.1" stroke="#231F20" stroke-width="1.55"/>
<text transform="translate(295.58 822.7) scale(1.0088 1)" font-size="18.3" stroke="#231F20" stroke-width="0.3" vector-effect="non-scaling-stroke">2</text>
<path d="M384.07 821.6H386.18V799H384.54C384.18 801.46 383.05 803.1 378.93 803.1V804.85H384.07Z"/>
<path d="M397.07 821.6H399.18V799H397.54C397.18 801.46 396.05 803.1 391.93 803.1V804.85H397.07Z"/>
<text transform="translate(486.84 822.9) scale(0.6950 0.94)" font-size="33" stroke="#fff" stroke-width="0.4" vector-effect="non-scaling-stroke">(</text>
<text transform="translate(494.04 822.9) scale(0.8717 1)" font-size="33" stroke="#fff" stroke-width="0.4" vector-effect="non-scaling-stroke">6</text>
<text transform="translate(509.64 822.9) scale(0.6950 0.94)" font-size="33" stroke="#fff" stroke-width="0.4" vector-effect="non-scaling-stroke">)</text>
<text transform="translate(523.91 813.8) scale(1.0411 1)" font-size="18.3" stroke="#231F20" stroke-width="0.3" vector-effect="non-scaling-stroke">3</text>
<line x1="529.93" y1="822.8" x2="542.83" y2="801.1" stroke="#231F20" stroke-width="1.55"/>
<text transform="translate(538.29 822.7) scale(1.0604 1)" font-size="18.3" stroke="#231F20" stroke-width="0.3" vector-effect="non-scaling-stroke">4</text>
<text transform="translate(636.44 822.9) scale(0.6950 0.94)" font-size="33" stroke="#fff" stroke-width="0.4" vector-effect="non-scaling-stroke">(</text>
<text transform="translate(643.64 822.9) scale(0.8717 1)" font-size="33" stroke="#fff" stroke-width="0.4" vector-effect="non-scaling-stroke">3</text>
<text transform="translate(659.24 822.9) scale(0.6950 0.94)" font-size="33" stroke="#fff" stroke-width="0.4" vector-effect="non-scaling-stroke">)</text>
<text transform="translate(673.51 813.8) scale(1.0411 1)" font-size="18.3" stroke="#231F20" stroke-width="0.3" vector-effect="non-scaling-stroke">3</text>
<line x1="679.53" y1="822.8" x2="692.43" y2="801.1" stroke="#231F20" stroke-width="1.55"/>
<text transform="translate(687.89 822.7) scale(1.0604 1)" font-size="18.3" stroke="#231F20" stroke-width="0.3" vector-effect="non-scaling-stroke">4</text>
<text transform="translate(797.64 821.8) scale(0.8717 1)" font-size="33" stroke="#fff" stroke-width="0.4" vector-effect="non-scaling-stroke">2,050</text>
<text transform="translate(978.36 821.8) scale(0.8717 1)" font-size="33" stroke="#fff" stroke-width="0.4" vector-effect="non-scaling-stroke">3,8</text>
<path d="M1025.4 821.6H1027.5V799H1025.86C1025.5 801.46 1024.37 803.1 1020.25 803.1V804.85H1025.4Z"/>
<text transform="translate(1031.35 821.8) scale(0.8717 1)" font-size="33" stroke="#fff" stroke-width="0.4" vector-effect="non-scaling-stroke">5</text>
<text transform="translate(1158.22 821.8) scale(0.8717 1)" font-size="33" stroke="#fff" stroke-width="0.4" vector-effect="non-scaling-stroke">4</text>
<text transform="translate(1173.22 821.8) scale(0.8717 1)" font-size="33" stroke="#fff" stroke-width="0.4" vector-effect="non-scaling-stroke">,</text>
<text transform="translate(1179.72 821.8) scale(0.8717 1)" font-size="33" stroke="#fff" stroke-width="0.4" vector-effect="non-scaling-stroke">7</text>
<text transform="translate(1194.71 821.8) scale(0.8717 1)" font-size="33" stroke="#fff" stroke-width="0.4" vector-effect="non-scaling-stroke">65</text>
<text transform="translate(31.5 881.8) scale(0.6394 1)" font-size="33" stroke="#fff" stroke-width="0.4" vector-effect="non-scaling-stroke">O</text>
<text transform="translate(48.54 881.8) scale(0.7262 1)" font-size="33" stroke="#fff" stroke-width="0.4" vector-effect="non-scaling-stroke">U</text>
<text transform="translate(66.18 881.8) scale(0.8717 1)" font-size="33" stroke="#fff" stroke-width="0.4" vector-effect="non-scaling-stroke">8</text>
<path d="M89.23 881.6H91.33V859H89.69C89.33 861.46 88.2 863.1 84.08 863.1V864.85H89.23Z"/>
<text transform="translate(95.18 881.8) scale(0.8717 1)" font-size="33" stroke="#fff" stroke-width="0.4" vector-effect="non-scaling-stroke">4</text>
<text transform="translate(179.78 881.8) scale(0.8717 1)" font-size="33" stroke="#fff" stroke-width="0.4" vector-effect="non-scaling-stroke">7</text>
<text transform="translate(264.59 882.9) scale(0.8706 1)" font-size="33" stroke="#fff" stroke-width="0.4" vector-effect="non-scaling-stroke">7</text>
<path d="M285.95 873.9H287.7V861.15H286.34C286.04 862.53 285.24 863.45 282.4 863.45V865.05H285.95Z"/>
<line x1="286.4" y1="882.8" x2="300.1" y2="861.1" stroke="#231F20" stroke-width="1.55"/>
<text transform="translate(295.58 882.7) scale(1.0088 1)" font-size="18.3" stroke="#231F20" stroke-width="0.3" vector-effect="non-scaling-stroke">2</text>
<path d="M382.83 881.6H384.93V859H383.29C382.93 861.46 381.8 863.1 377.68 863.1V864.85H382.83Z"/>
<text transform="translate(388.78 881.8) scale(0.8717 1)" font-size="33" stroke="#fff" stroke-width="0.4" vector-effect="non-scaling-stroke">3</text>
<text transform="translate(486.84 882.9) scale(0.6950 0.94)" font-size="33" stroke="#fff" stroke-width="0.4" vector-effect="non-scaling-stroke">(</text>
<text transform="translate(494.04 882.9) scale(0.8717 1)" font-size="33" stroke="#fff" stroke-width="0.4" vector-effect="non-scaling-stroke">6</text>
<text transform="translate(509.64 882.9) scale(0.6950 0.94)" font-size="33" stroke="#fff" stroke-width="0.4" vector-effect="non-scaling-stroke">)</text>
<text transform="translate(523.91 873.8) scale(1.0411 1)" font-size="18.3" stroke="#231F20" stroke-width="0.3" vector-effect="non-scaling-stroke">3</text>
<line x1="529.93" y1="882.8" x2="542.83" y2="861.1" stroke="#231F20" stroke-width="1.55"/>
<text transform="translate(538.29 882.7) scale(1.0604 1)" font-size="18.3" stroke="#231F20" stroke-width="0.3" vector-effect="non-scaling-stroke">4</text>
<text transform="translate(636.44 882.9) scale(0.6950 0.94)" font-size="33" stroke="#fff" stroke-width="0.4" vector-effect="non-scaling-stroke">(</text>
<text transform="translate(643.64 882.9) scale(0.8717 1)" font-size="33" stroke="#fff" stroke-width="0.4" vector-effect="non-scaling-stroke">3</text>
<text transform="translate(659.24 882.9) scale(0.6950 0.94)" font-size="33" stroke="#fff" stroke-width="0.4" vector-effect="non-scaling-stroke">)</text>
<text transform="translate(673.51 873.8) scale(1.0411 1)" font-size="18.3" stroke="#231F20" stroke-width="0.3" vector-effect="non-scaling-stroke">3</text>
<line x1="679.53" y1="882.8" x2="692.43" y2="861.1" stroke="#231F20" stroke-width="1.55"/>
<text transform="translate(687.89 882.7) scale(1.0604 1)" font-size="18.3" stroke="#231F20" stroke-width="0.3" vector-effect="non-scaling-stroke">4</text>
<text transform="translate(797.64 881.8) scale(0.8717 1)" font-size="33" stroke="#fff" stroke-width="0.4" vector-effect="non-scaling-stroke">2,050</text>
<text transform="translate(978.36 881.8) scale(0.8717 1)" font-size="33" stroke="#fff" stroke-width="0.4" vector-effect="non-scaling-stroke">3,8</text>
<path d="M1025.4 881.6H1027.5V859H1025.86C1025.5 861.46 1024.37 863.1 1020.25 863.1V864.85H1025.4Z"/>
<text transform="translate(1031.35 881.8) scale(0.8717 1)" font-size="33" stroke="#fff" stroke-width="0.4" vector-effect="non-scaling-stroke">5</text>
<text transform="translate(1158.22 881.8) scale(0.8717 1)" font-size="33" stroke="#fff" stroke-width="0.4" vector-effect="non-scaling-stroke">4</text>
<text transform="translate(1173.22 881.8) scale(0.8717 1)" font-size="33" stroke="#fff" stroke-width="0.4" vector-effect="non-scaling-stroke">,</text>
<text transform="translate(1179.72 881.8) scale(0.8717 1)" font-size="33" stroke="#fff" stroke-width="0.4" vector-effect="non-scaling-stroke">7</text>
<text transform="translate(1194.71 881.8) scale(0.8717 1)" font-size="33" stroke="#fff" stroke-width="0.4" vector-effect="non-scaling-stroke">65</text>
</g>
<line x1="743" y1="0" x2="743" y2="901" stroke="#231F20" stroke-width="4"/>
<line x1="1283" y1="0" x2="1283" y2="901" stroke="#231F20" stroke-width="4"/>
<line x1="1" y1="0.4" x2="1283" y2="0.4" stroke="#3a3637" stroke-width="1.25"/>
<line x1="233.1" y1="90.5" x2="1283" y2="90.5" stroke="#4d4a4b" stroke-width="1.25"/>
<line x1="1" y1="180.5" x2="1283" y2="180.5" stroke="#4d4a4b" stroke-width="1.25"/>
<line x1="1" y1="240.4" x2="1283" y2="240.4" stroke="#4d4a4b" stroke-width="1.25"/>
<line x1="1" y1="300.4" x2="1283" y2="300.4" stroke="#4d4a4b" stroke-width="1.25"/>
<line x1="1" y1="360.4" x2="1283" y2="360.4" stroke="#4d4a4b" stroke-width="1.25"/>
<line x1="1" y1="420.4" x2="1283" y2="420.4" stroke="#4d4a4b" stroke-width="1.25"/>
<line x1="1" y1="480.4" x2="1283" y2="480.4" stroke="#4d4a4b" stroke-width="1.25"/>
<line x1="1" y1="540.4" x2="1283" y2="540.4" stroke="#4d4a4b" stroke-width="1.25"/>
<line x1="1" y1="600.4" x2="1283" y2="600.4" stroke="#4d4a4b" stroke-width="1.25"/>
<line x1="1" y1="660.4" x2="1283" y2="660.4" stroke="#4d4a4b" stroke-width="1.25"/>
<line x1="1" y1="720.4" x2="1283" y2="720.4" stroke="#4d4a4b" stroke-width="1.25"/>
<line x1="1" y1="780.4" x2="1283" y2="780.4" stroke="#4d4a4b" stroke-width="1.25"/>
<line x1="1" y1="840.4" x2="1283" y2="840.4" stroke="#4d4a4b" stroke-width="1.25"/>
<line x1="1" y1="900.45" x2="1283" y2="900.45" stroke="#231F20" stroke-width="1.25"/>
<line x1="1.55" y1="0" x2="1.55" y2="901" stroke="#231F20" stroke-width="1.2"/>
<line x1="143" y1="0" x2="143" y2="901" stroke="#4d4a4b" stroke-width="1.25"/>
<line x1="233.1" y1="0" x2="233.1" y2="901" stroke="#4d4a4b" stroke-width="1.25"/>
<line x1="338" y1="90.5" x2="338" y2="901" stroke="#4d4a4b" stroke-width="1.25"/>
<line x1="443.1" y1="0" x2="443.1" y2="901" stroke="#4d4a4b" stroke-width="1.25"/>
<line x1="593" y1="90.5" x2="593" y2="901" stroke="#4d4a4b" stroke-width="1.25"/>
<line x1="922.7" y1="90.5" x2="922.7" y2="901" stroke="#4d4a4b" stroke-width="1.25"/>
<line x1="1102.7" y1="90.5" x2="1102.7" y2="901" stroke="#4d4a4b" stroke-width="1.25"/>
<rect x="0" y="901.1" width="1283" height="0.9" fill="#e9e9e9"/>
</svg>
</body></html>
